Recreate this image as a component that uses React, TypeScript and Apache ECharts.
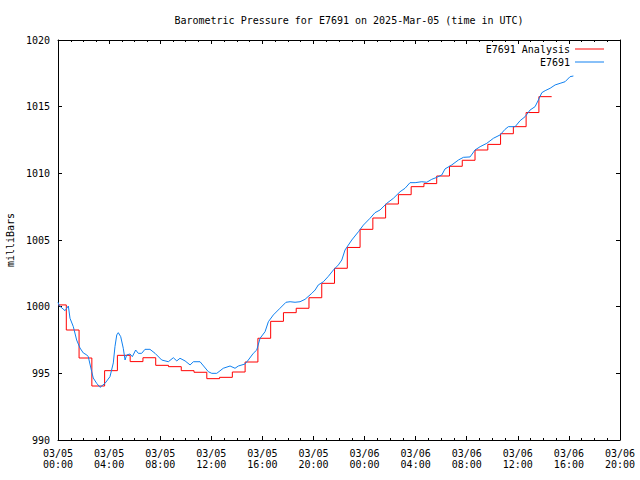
import React, { useEffect, useRef } from "react";
import * as echarts from "echarts";

// Hours since 2025-03-05 00:00 UTC
const analysisHours = [
  0, 0.65, 1.65, 2.65, 3.65, 4.65, 5.65, 6.65, 7.65, 8.65, 9.65, 10.65, 11.65,
  12.65, 13.65, 14.65, 15.65, 16.65, 17.65, 18.65, 19.65, 20.65, 21.65, 22.65,
  23.65, 24.65, 25.65, 26.65, 27.65, 28.65, 29.65, 30.65, 31.65, 32.65, 33.65,
  34.65, 35.65, 36.65, 37.65, 38.65,
];
const analysisValues = [
  1000.13, 998.25, 996.15, 994.05, 995.2, 996.35, 995.88, 996.17, 995.6, 995.5,
  995.2, 995.08, 994.6, 994.7, 995.1, 995.85, 997.63, 998.9, 999.55, 999.88,
  1000.67, 1001.75, 1002.88, 1004.44, 1005.8, 1006.65, 1007.7, 1008.4, 1009.0,
  1009.23, 1009.8, 1010.53, 1010.98, 1011.75, 1012.17, 1012.97, 1013.5,
  1014.56, 1015.75, 1015.75,
];

const stationHours = [
  0, 0.1, 0.55, 0.81, 0.94, 1.2, 1.46, 1.72, 1.98, 2.25, 2.37, 2.64, 2.76,
  3.03, 3.29, 3.68, 4.07, 4.33, 4.46, 4.6, 4.72, 4.91, 5.11, 5.25, 5.38, 5.64,
  5.82, 6.08, 6.29, 6.55, 6.81, 7.2, 7.6, 8.12, 8.64, 9.03, 9.3, 9.55, 9.95,
  10.34, 10.6, 11.12, 11.77, 12.04, 12.43, 12.94, 13.47, 13.86, 14.12, 14.64,
  14.9, 15.29, 15.56, 15.82, 16.21, 16.47, 16.86, 17.38, 17.85, 18.17, 18.56,
  18.95, 19.34, 19.87, 20.13, 20.38, 20.78, 21.17, 21.56, 21.95, 22.22, 22.47,
  23.0, 23.52, 23.91, 24.43, 24.82, 25.21, 25.74, 26.26, 26.78, 27.17, 27.56,
  27.96, 28.48, 28.87, 29.26, 29.66, 30.05, 30.3, 30.83, 31.35, 31.74, 32.26,
  32.65, 33.05, 33.57, 34.09, 34.61, 35.0, 35.26, 35.79, 36.18, 36.57, 36.96,
  37.35, 37.61, 37.88, 38.14, 38.53, 38.92, 39.31, 39.7, 40.09, 40.35,
];
const stationValues = [
  1000.33, 1000.07, 999.7, 1000.05, 999.13, 998.5, 997.5, 996.9, 996.53,
  996.38, 996.25, 995.12, 994.65, 994.25, 993.95, 994.25, 994.75, 995.78,
  997.0, 997.88, 998.05, 997.75, 996.88, 996.0, 996.38, 996.45, 996.25, 996.75,
  996.5, 996.5, 996.8, 996.8, 996.5, 996.0, 995.87, 996.17, 995.93, 996.13,
  995.93, 995.63, 995.87, 995.87, 995.12, 995.0, 995.0, 995.38, 995.55, 995.38,
  995.55, 995.7, 996.0, 996.5, 996.75, 997.63, 998.12, 998.87, 999.38, 999.88,
  1000.33, 1000.37, 1000.33, 1000.37, 1000.55, 1001.0, 1001.25, 1001.63,
  1001.87, 1002.28, 1002.75, 1003.13, 1003.5, 1004.25, 1005.0, 1005.62,
  1006.12, 1006.63, 1007.05, 1007.25, 1007.75, 1008.13, 1008.62, 1008.88,
  1009.3, 1009.3, 1009.37, 1009.33, 1009.55, 1009.7, 1009.88, 1010.33, 1010.63,
  1011.0, 1011.2, 1011.23, 1011.75, 1012.0, 1012.25, 1012.63, 1012.88, 1013.3,
  1013.5, 1013.5, 1013.95, 1014.25, 1014.75, 1015.0, 1015.5, 1016.05, 1016.2,
  1016.38, 1016.63, 1016.75, 1016.87, 1017.25, 1017.3,
];

const seriesNames = ["E7691 Analysis", "E7691"];
const startUtc = Date.UTC(2025, 2, 5, 0, 0, 0);
const xMin = 0;
const xMax = 44;
const xStep = 4;
const yMin = 990;
const yMax = 1020;
const yStep = 5;

const FONT = "DejaVu Sans Mono";

function pad(n: number) {
  return n < 10 ? "0" + n : "" + n;
}
function hourLabel(h: number) {
  const d = new Date(startUtc + h * 3600 * 1000);
  return (
    pad(d.getUTCMonth() + 1) +
    "/" +
    pad(d.getUTCDate()) +
    "\n" +
    pad(d.getUTCHours()) +
    ":" +
    pad(d.getUTCMinutes())
  );
}

export default function App() {
  const ref = useRef<HTMLDivElement>(null);
  useEffect(() => {
    if (!ref.current) return;
    const chart = echarts.init(ref.current, undefined, { renderer: "svg" });
    const axisCommon = {
      axisLine: { show: true, onZero: false, lineStyle: { color: "#000", width: 1 } },
      splitLine: { show: false },
    };
    chart.setOption({
      animation: false,
      backgroundColor: "#fff",
      textStyle: { fontFamily: FONT },
      title: {
        text: "Barometric Pressure for E7691 on 2025-Mar-05 (time in UTC)",
        left: 344,
        textAlign: "center",
        top: 10,
        textStyle: { fontFamily: FONT, fontSize: 10, fontWeight: "normal", color: "#000" },
      },
      legend: {
        data: seriesNames,
        orient: "vertical",
        right: 31,
        top: 38,
        align: "right",
        icon: "rect",
        itemWidth: 29,
        itemHeight: 1,
        itemGap: 1,
        textStyle: { fontFamily: FONT, fontSize: 10, color: "#000", lineHeight: 12 },
      },
      grid: {
        left: 58,
        right: 20,
        top: 40,
        bottom: 40,
        containLabel: false,
        outerBoundsMode: "none",
      },
      xAxis: [
        {
          ...axisCommon,
          type: "value",
          position: "bottom",
          min: xMin,
          max: xMax,
          interval: xStep,
          axisTick: { show: true, inside: true, length: 4, lineStyle: { color: "#000" } },
          minorTick: { show: true, splitNumber: 4, length: 2, lineStyle: { color: "#000" } },
          axisLabel: {
            formatter: (v: number) => hourLabel(v),
            fontFamily: FONT,
            fontSize: 10,
            color: "#000",
            margin: 8,
            lineHeight: 11,
            hideOverlap: false,
          },
        },
        {
          ...axisCommon,
          type: "value",
          position: "top",
          min: xMin,
          max: xMax,
          interval: xStep,
          axisTick: { show: true, inside: true, length: 4, lineStyle: { color: "#000" } },
          minorTick: { show: true, splitNumber: 4, length: 2, lineStyle: { color: "#000" } },
          axisLabel: { show: false },
        },
      ],
      yAxis: [
        {
          ...axisCommon,
          type: "value",
          position: "left",
          min: yMin,
          max: yMax,
          interval: yStep,
          name: "milliBars",
          nameLocation: "middle",
          nameGap: 40,
          nameTextStyle: { fontFamily: FONT, fontSize: 10, color: "#000" },
          axisTick: { show: true, inside: true, length: 4, lineStyle: { color: "#000" } },
          axisLabel: {
            fontFamily: FONT,
            fontSize: 10,
            color: "#000",
            margin: 8,
            formatter: (v: number) => String(v),
          },
        },
        {
          ...axisCommon,
          type: "value",
          position: "right",
          min: yMin,
          max: yMax,
          interval: yStep,
          axisTick: { show: true, inside: true, length: 4, lineStyle: { color: "#000" } },
          axisLabel: { show: false },
        },
      ],
      series: [
        {
          name: seriesNames[0],
          type: "line",
          step: "end",
          symbol: "none",
          showSymbol: false,
          color: "#ff0000",
          lineStyle: { color: "#ff0000", width: 1 },
          data: analysisHours.map((h, i) => [h, analysisValues[i]]),
        },
        {
          name: seriesNames[1],
          type: "line",
          symbol: "none",
          showSymbol: false,
          color: "#1080f0",
          lineStyle: { color: "#1080f0", width: 1 },
          data: stationHours.map((h, i) => [h, stationValues[i]]),
        },
      ],
    });
    return () => chart.dispose();
  }, []);
  return (
    <div
      ref={ref}
      style={{ position: "fixed", left: 0, top: 0, width: 640, height: 480 }}
    />
  );
}
